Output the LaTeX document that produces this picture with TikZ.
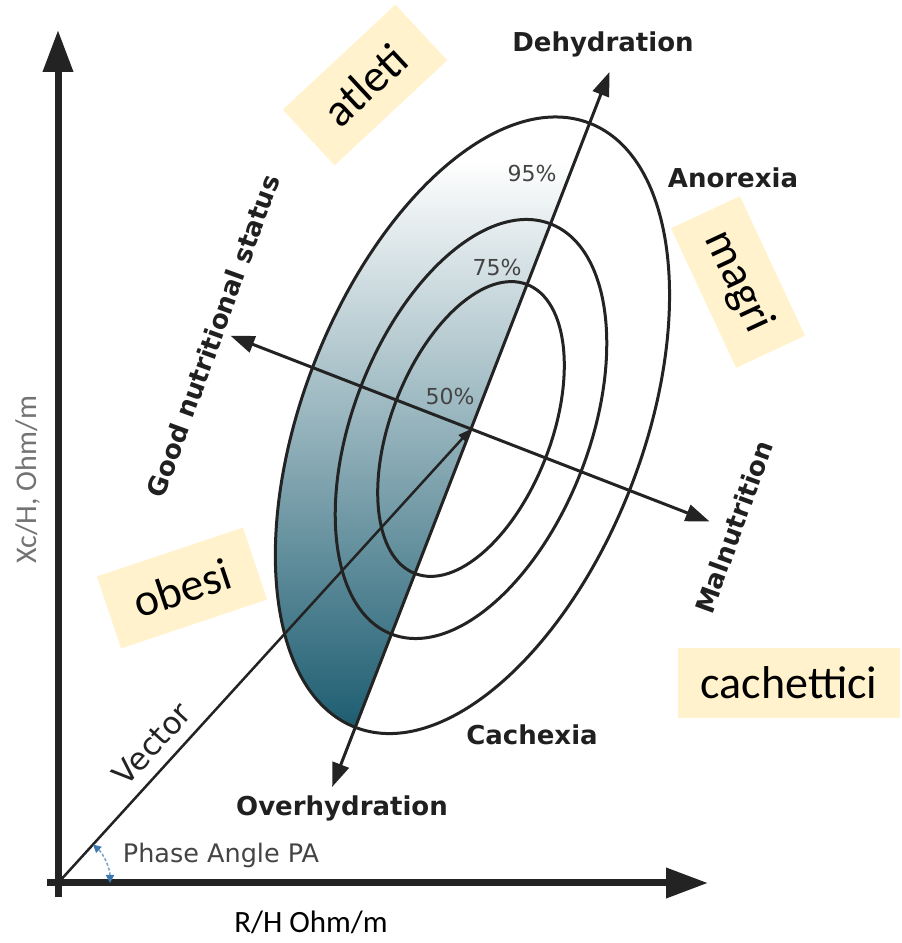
\documentclass[tikz,border=0pt]{standalone}
\usepackage{fontspec}
\setmainfont{DejaVu Sans}
\newfontfamily\calib{Carlito}
\usetikzlibrary{arrows.meta}
\definecolor{ink}{RGB}{35,35,35}
\definecolor{tealdeep}{RGB}{25,90,110}
\definecolor{tealmid}{RGB}{105,152,168}
\definecolor{tagyellow}{RGB}{255,242,204}
\definecolor{phaseblue}{RGB}{60,120,175}

\begin{document}
\begin{tikzpicture}[x=1pt,y=1pt,
  axisline/.style={draw=ink,line width=7pt,-{Triangle[length=42pt,width=29pt]}},
  pole/.style={draw=ink,line width=3pt,{Triangle[length=24pt,width=17pt]}-{Triangle[length=24pt,width=17pt]}},
  ring/.style={draw=ink,line width=3pt},
  state/.style={font=\fontsize{26}{30}\selectfont\bfseries,text=ink!90!black},
  pct/.style={font=\fontsize{22}{26}\selectfont,text=ink!85},
  tag/.style={fill=tagyellow,font=\calib\fontsize{46}{50}\selectfont,minimum width=154pt,minimum height=76pt,inner sep=0pt}]
\useasboundingbox (0,0) rectangle (902,943);
\coordinate (O) at (58,60);
\coordinate (C) at (471,514);
\coordinate (ybase) at (58,46);
\coordinate (ytip) at (58,913);
\coordinate (xbase) at (47,60);
\coordinate (xtip) at (708,60);
% shaded half of the outer ring
\begin{scope}
\clip[shift={(C)},rotate=68.8] (-320,0) arc[start angle=180,end angle=0,x radius=324,y radius=170] -- cycle;
\shade[top color=white,middle color=tealmid,bottom color=tealdeep] (200,205) rectangle (700,783);
\end{scope}
% tolerance ellipses and poles
\begin{scope}[shift={(C)},rotate=68.8]
\draw[ring] (4,0) ellipse[x radius=324,y radius=170];
\foreach \a/\b in {220/118,155/80}{\draw[ring] (0,0) ellipse[x radius=\a,y radius=\b];}
\coordinate (dehy) at (383,0);
\coordinate (overhy) at (-384,0);
\coordinate (good) at (0,258);
\coordinate (maln) at (0,-256);
\end{scope}
\draw[pole] (overhy) -- (dehy);
\draw[pole] (good) -- (maln);
\draw[ink,line width=2.5pt,-{Triangle[length=13pt,width=10pt]}] (O) -- (C);
\draw[axisline] (ybase) -- (ytip);
\draw[axisline] (xbase) -- (xtip);
\draw[phaseblue!70,line width=1.5pt,densely dashed,{Triangle[length=8pt,width=8pt,color=phaseblue]}-{Triangle[length=8pt,width=8pt,color=phaseblue]}]
  (O) ++(0:52) arc[start angle=0,end angle=47.7,radius=52];
% labels
\node[state] (dehyl) at (603,899) {Dehydration};
\node[state] (anorl) at (733,765) {Anorexia};
\node[state] (cachl) at (532,208) {Cachexia};
\node[state] (overl) at (342,135) {Overhydration};
\node[state,rotate=70] (goodl) at (213,607) {Good nutritional status};
\node[state,rotate=70] (malnl) at (734,416) {Malnutrition};
\node[pct] (p95) at (532,770) {95\%};
\node[pct] (p75) at (497,676) {75\%};
\node[pct] (p50) at (450,547) {50\%};
\node[font=\fontsize{31}{34}\selectfont,text=ink,rotate=47.7] (vecl) at (152,199) {Vector};
\node[font=\fontsize{25.5}{28}\selectfont,text=ink!85] (pal) at (221,88) {Phase Angle PA};
\node[font=\calib\fontsize{31}{34}\selectfont] (xlab) at (311,21) {R/H Ohm/m};
\node[font=\calib\fontsize{30}{34}\selectfont,text=black!55,rotate=90] (ylab) at (28,463) {Xc/H, Ohm/m};
% group tags
\node[tag,rotate=43] (atl) at (365,858) {atleti};
\node[tag,rotate=-65] (mag) at (738,661) {magri};
\node[tag,rotate=18.5] (obe) at (182,355) {obesi};
\node[tag,minimum width=222pt,minimum height=70pt] (cac) at (789,260) {cachettici};
\end{tikzpicture}
\end{document}
